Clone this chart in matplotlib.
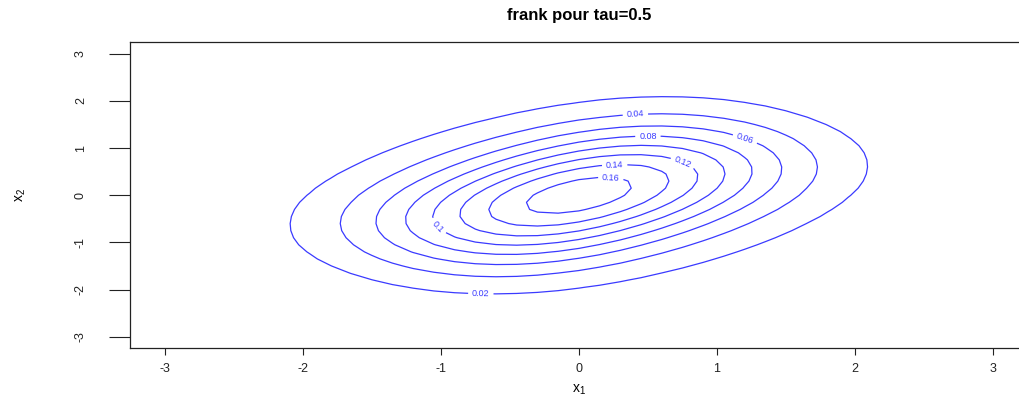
import math
import numpy as np
import matplotlib
matplotlib.use("Agg")
import matplotlib.pyplot as plt

plt.rcParams['font.family'] = ['Liberation Sans', 'DejaVu Sans']
plt.rcParams['axes.unicode_minus'] = False

# copule de Frank, marges normales
theta = 2.0
levels = [0.02, 0.04, 0.06, 0.08, 0.10, 0.12, 0.14, 0.16]
level_labels = ['0.02', '0.04', '0.06', '0.08', '0.1', '0.12', '0.14', '0.16']
label_pos = [(-0.71, -2.11), (0.41, 1.68), (1.20, 1.17), (0.50, 1.22),
             (-1.03, -0.69), (0.75, 0.69), (0.26, 0.62), (0.23, 0.26)]
ticks = [-3, -2, -1, 0, 1, 2, 3]

grid = np.linspace(-3, 3, 41)
X, Y = np.meshgrid(grid, grid)
Phi = np.vectorize(lambda t: 0.5 * (1 + math.erf(t / math.sqrt(2))))
U, V = Phi(X), Phi(Y)
phi = lambda t: np.exp(-t ** 2 / 2) / np.sqrt(2 * np.pi)
a = 1 - np.exp(-theta)
c = theta * a * np.exp(-theta * (U + V)) / (a - (1 - np.exp(-theta * U)) * (1 - np.exp(-theta * V))) ** 2
Z = c * phi(X) * phi(Y)

fig = plt.figure(figsize=(10.2, 3.96), dpi=100)
ax = fig.add_axes([0.1275, 0.121, 0.88, 0.773])

cs = ax.contour(X, Y, Z, levels=levels, colors='#3a3aff', linewidths=0.9)
fmt = dict(zip(cs.levels, level_labels))
ax.clabel(cs, fmt=fmt, fontsize=6.5, inline=True, inline_spacing=5, manual=label_pos)

ax.set_xlim(-3.25, 3.25)
ax.set_ylim(-3.24, 3.25)
ax.set_xticks(ticks)
ax.set_yticks(ticks)
ax.tick_params(axis='x', length=5, width=0.8, labelsize=9, pad=6, colors='#222222')
ax.tick_params(axis='y', length=15, width=0.8, labelsize=9, pad=16, colors='#222222')
plt.setp(ax.get_yticklabels(), rotation=90, va='center')
for s in ax.spines.values():
    s.set_linewidth(0.9)
    s.set_color('#222222')

ax.set_xlabel(r'$\mathregular{x_1}$', fontsize=10, labelpad=5)
ax.set_ylabel(r'$\mathregular{x_2}$', fontsize=10, labelpad=34)
ax.set_title('frank pour tau=0.5', fontsize=12, fontweight='bold', pad=16)

fig.savefig('out.png', dpi=100)
